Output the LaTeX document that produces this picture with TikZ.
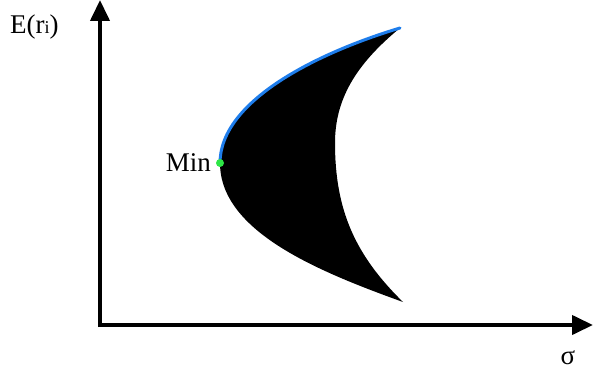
\documentclass[tikz,border=0pt]{standalone}
\usepackage{fontspec}
\setmainfont{Liberation Serif}
\usetikzlibrary{arrows.meta}
\begin{document}
\begin{tikzpicture}[x=1pt,y=-1pt,
  axis/.style={line width=4pt,-{Triangle[length=21pt,width=19pt]}},
  lbl/.style={inner sep=0pt,font=\fontsize{27}{27}\selectfont}]
\useasboundingbox (0,0) rectangle (593,371);
\coordinate (O) at (100,325);
\coordinate (ytip) at (100,0);
\coordinate (xtip) at (593,325);
\draw[axis] (100,327) -- (ytip);
\draw[axis] (98,325) -- (xtip);
\coordinate (min) at (220,163);
\coordinate (top) at (400,28);
\coordinate (bot) at (403,302);
\coordinate (inn) at (335,143);
\fill[black] (min) .. controls (220,100) and (320,52) .. (top)
  .. controls (355,65) and (335,100) .. (inn)
  .. controls (335,210) and (355,255) .. (bot)
  .. controls (320,272) and (220,232) .. (min) -- cycle;
\draw[line width=3pt,color={rgb,255:red,30;green,125;blue,235},line cap=round]
  (min) .. controls (220,100) and (320,52) .. (top);
\fill[color={rgb,255:red,45;green,230;blue,70}] (min) circle (4);
\node[lbl,anchor=east] (minlbl) at (211,163) {Min};
\node[lbl,anchor=base west] (ylbl) at (10,34) {E(r{\fontsize{18}{18}\selectfont i})};
\node[lbl,anchor=base] (xlbl) at (568,364) {σ};
\end{tikzpicture}
\end{document}
